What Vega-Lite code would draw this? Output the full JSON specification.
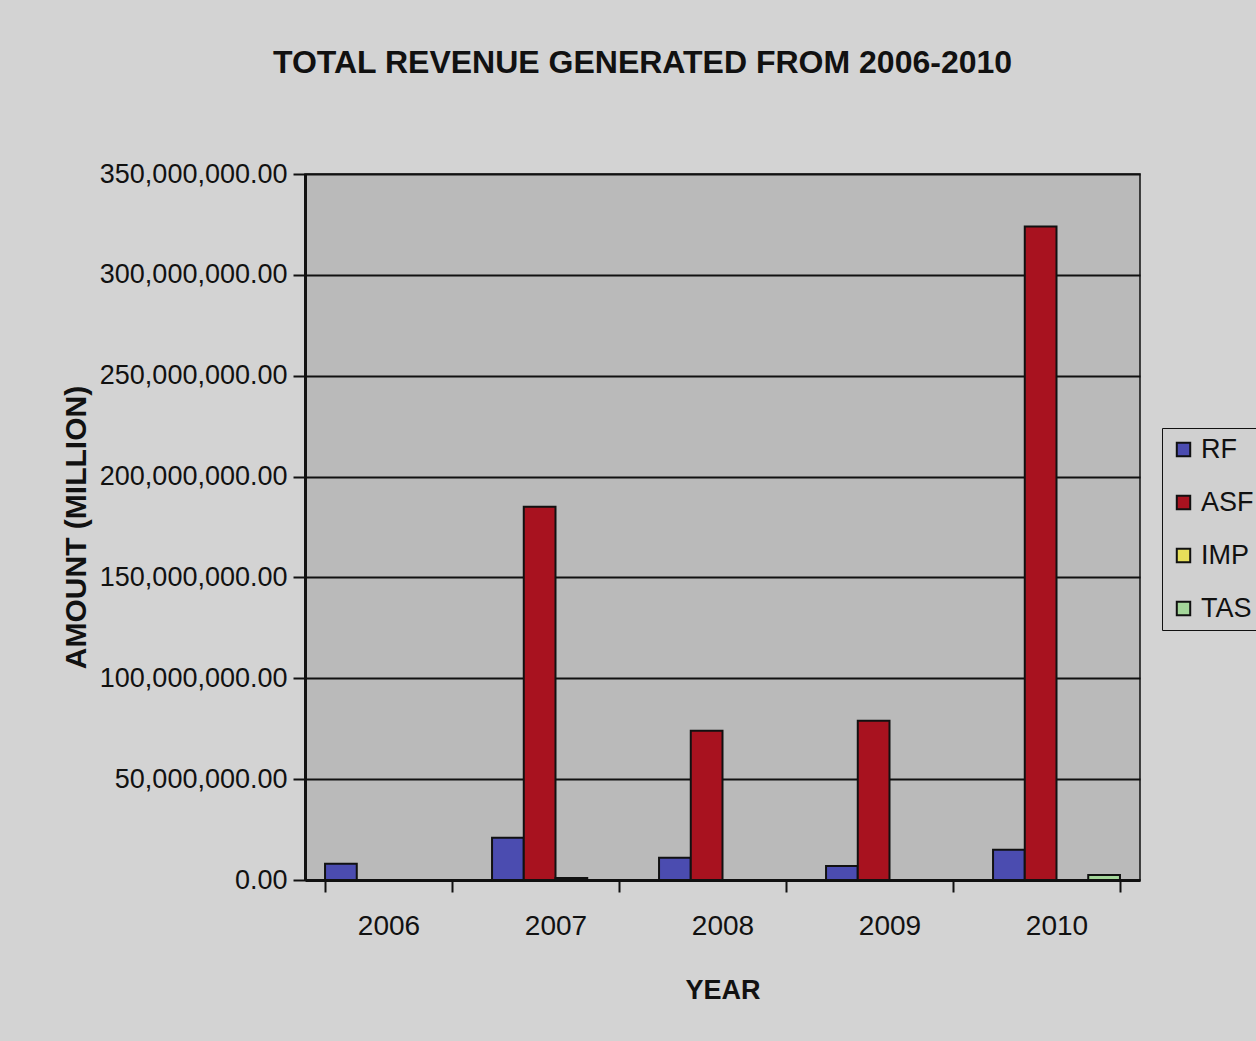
{
  "$schema": "https://vega.github.io/schema/vega-lite/v6.json",
  "autosize": {"type": "none"},
  "padding": {"left": 305, "top": 174, "right": 116, "bottom": 161},
  "width": 835,
  "height": 706,
  "background": "#d3d3d3",
  "config": {
    "font": "Liberation Sans",
    "view": {"fill": "#bababa", "stroke": "#111111", "strokeWidth": 1.5}
  },
  "title": {
    "text": "TOTAL REVENUE GENERATED FROM 2006-2010",
    "fontSize": 32,
    "fontWeight": "bold",
    "color": "#111111",
    "anchor": "middle",
    "dx": -80,
    "offset": 80
  },
  "data": {
    "values": [
      {"year": "2006", "type": "RF", "amount": 8000000},
      {"year": "2006", "type": "ASF", "amount": 0},
      {"year": "2006", "type": "IMP", "amount": 0},
      {"year": "2006", "type": "TAS", "amount": 0},
      {"year": "2007", "type": "RF", "amount": 21000000},
      {"year": "2007", "type": "ASF", "amount": 185000000},
      {"year": "2007", "type": "IMP", "amount": 1000000},
      {"year": "2007", "type": "TAS", "amount": 0},
      {"year": "2008", "type": "RF", "amount": 11000000},
      {"year": "2008", "type": "ASF", "amount": 74000000},
      {"year": "2008", "type": "IMP", "amount": 0},
      {"year": "2008", "type": "TAS", "amount": 0},
      {"year": "2009", "type": "RF", "amount": 7000000},
      {"year": "2009", "type": "ASF", "amount": 79000000},
      {"year": "2009", "type": "IMP", "amount": 0},
      {"year": "2009", "type": "TAS", "amount": 0},
      {"year": "2010", "type": "RF", "amount": 15000000},
      {"year": "2010", "type": "ASF", "amount": 324000000},
      {"year": "2010", "type": "IMP", "amount": 0},
      {"year": "2010", "type": "TAS", "amount": 2500000}
    ]
  },
  "mark": {"type": "bar", "stroke": "#111111", "strokeWidth": 2},
  "encoding": {
    "x": {
      "field": "year",
      "type": "nominal",
      "scale": {"paddingInner": 0.24, "paddingOuter": 0.12},
      "axis": {
        "title": "YEAR",
        "titleFontSize": 27,
        "titleFontWeight": "bold",
        "titleColor": "#111111",
        "titlePadding": 37,
        "labelAngle": 0,
        "labelFontSize": 28,
        "labelColor": "#111111",
        "labelPadding": 20,
        "tickBand": "extent",
        "tickSize": 12,
        "tickWidth": 2,
        "tickColor": "#111111",
        "domainColor": "#111111",
        "domainWidth": 3
      }
    },
    "xOffset": {"field": "type", "sort": ["RF", "ASF", "IMP", "TAS"]},
    "y": {
      "field": "amount",
      "type": "quantitative",
      "scale": {"domain": [0, 350000000], "nice": false},
      "axis": {
        "title": "AMOUNT (MILLION)",
        "titleFontSize": 30,
        "titleFontWeight": "bold",
        "titleColor": "#111111",
        "titlePadding": 14,
        "format": ",.2f",
        "values": [0, 50000000, 100000000, 150000000, 200000000, 250000000, 300000000, 350000000],
        "labelFontSize": 27,
        "labelLimit": 0,
        "labelColor": "#111111",
        "labelPadding": 6,
        "tickSize": 12,
        "tickWidth": 2,
        "tickColor": "#111111",
        "domainColor": "#111111",
        "domainWidth": 3,
        "gridColor": "#111111",
        "gridWidth": 2,
        "gridOpacity": 1
      }
    },
    "color": {
      "field": "type",
      "type": "nominal",
      "sort": ["RF", "ASF", "IMP", "TAS"],
      "scale": {"domain": ["RF", "ASF", "IMP", "TAS"], "range": ["#4b4cb0", "#a8121f", "#e6df5a", "#a4d69a"]},
      "legend": {
        "title": null,
        "orient": "none",
        "legendX": 857,
        "legendY": 254,
        "symbolType": "square",
        "symbolSize": 180,
        "symbolStrokeColor": "#111111",
        "symbolStrokeWidth": 2,
        "labelFontSize": 27,
        "labelLimit": 0,
        "labelOffset": 4,
        "labelColor": "#111111",
        "rowPadding": 25,
        "padding": 8,
        "strokeColor": "#111111",
        "fillColor": "#d0d0d0"
      }
    }
  }
}
